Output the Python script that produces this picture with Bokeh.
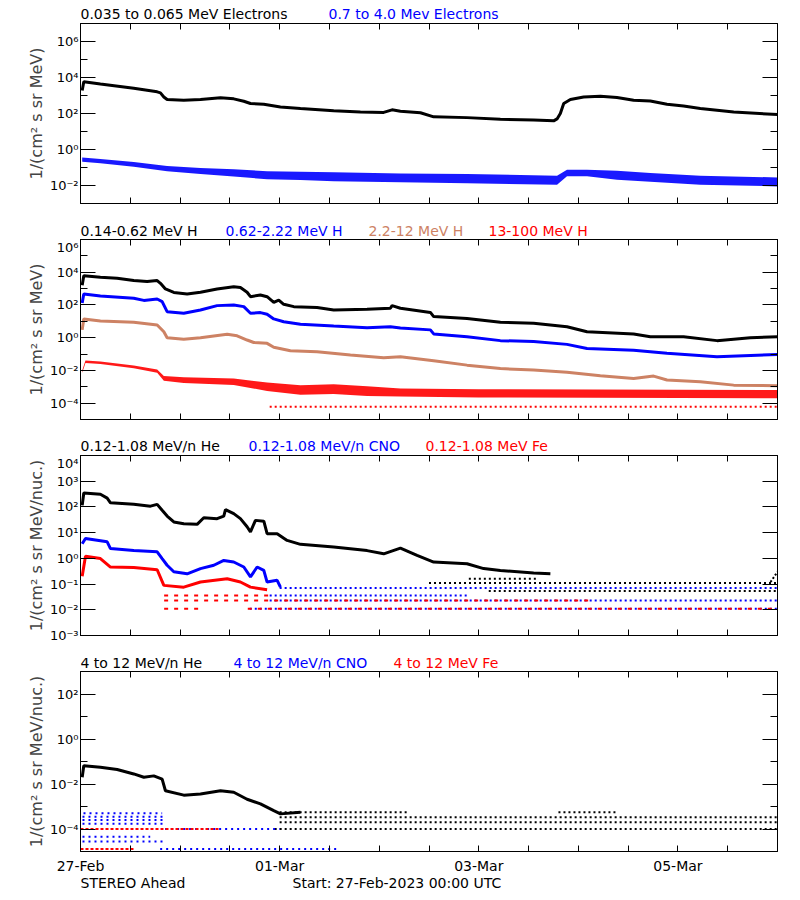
from bokeh.plotting import figure
from bokeh.layouts import column
from bokeh.models import (Range1d, FixedTicker, LogAxis, LinearAxis, CustomJSTickFormatter)
from bokeh.core.properties import value
from bokeh.embed import file_html
from bokeh.resources import INLINE

FONT = "DejaVu Sans"
BLACK, BLUE, TAN, RED = "#000000", "#0000FF", "#CD8264", "#FF0000"

# ---------------- x axis (days since 27-Feb-2023 00:00 UTC) ----------------
date_ticks = [0, 2, 4, 6]
date_labels = ["27-Feb", "01-Mar", "03-Mar", "05-Mar"]
half_day_ticks = [0.5, 1, 1.5, 2.5, 3, 3.5, 4.5, 5, 5.5, 6.5]

# ---------------- panel titles ----------------
p1_titles = ["0.035 to 0.065 MeV Electrons", "0.7 to 4.0 Mev Electrons"]
p2_titles = ["0.14-0.62 MeV H", "0.62-2.22 MeV H", "2.2-12 MeV H", "13-100 MeV H"]
p3_titles = ["0.12-1.08 MeV/n He", "0.12-1.08 MeV/n CNO", "0.12-1.08 MeV Fe"]
p4_titles = ["4 to 12 MeV/n He", "4 to 12 MeV/n CNO", "4 to 12 MeV Fe"]
footer_texts = ["STEREO Ahead", "Start: 27-Feb-2023 00:00 UTC"]

# ---------------- panel 1: electrons ----------------
e_lo_day = [0.017, 0.033, 0.2, 0.535, 0.77, 0.803, 0.837, 0.87, 1.037, 1.205, 1.406, 1.539, 1.64, 1.707,
            1.841, 2.008, 2.209, 2.543, 2.811, 3.045, 3.129, 3.213, 3.414, 3.547, 3.882, 4.217, 4.551,
            4.752, 4.786, 4.819, 4.853, 4.92, 5.053, 5.221, 5.388, 5.555, 5.723, 5.89, 6.057, 6.225, 6.56, 7.0]
e_lo_flux = [1.9e3, 5.8e3, 4.3e3, 2.5e3, 1.6e3, 1.4e3, 8.3e2, 6.0e2, 5.5e2, 6.0e2, 7.4e2, 6.5e2, 4.8e2, 3.6e2,
             3.3e2, 2.3e2, 1.9e2, 1.4e2, 1.2e2, 1.15e2, 1.6e2, 1.35e2, 1.1e2, 6.5e1, 5.9e1, 4.8e1, 4.4e1,
             3.9e1, 5.0e1, 1.0e2, 3.6e2, 6.0e2, 8.3e2, 9.1e2, 7.8e2, 5.5e2, 5.0e2, 3.3e2, 2.6e2, 1.9e2, 1.2e2, 8.7e1]
e_hi_day = [0.017, 0.2, 0.535, 0.87, 1.205, 1.539, 1.874, 2.209, 2.543, 3.213, 3.882, 4.786, 4.886, 5.087,
            5.388, 5.723, 6.225, 7.0]
e_hi_low = [2.1e-1, 1.7e-1, 1.1e-1, 6.2e-2, 4.4e-2, 3.2e-2, 2.2e-2, 2.0e-2, 1.7e-2, 1.5e-2, 1.35e-2, 1.1e-2,
            3.3e-2, 3.3e-2, 2.1e-2, 1.6e-2, 1.1e-2, 8.9e-3]
e_hi_high = [3.6e-1, 3.0e-1, 2.0e-1, 1.2e-1, 9.5e-2, 7.9e-2, 6.2e-2, 5.8e-2, 5.4e-2, 4.7e-2, 4.3e-2, 3.5e-2,
             7.6e-2, 7.6e-2, 6.6e-2, 5.0e-2, 3.5e-2, 2.8e-2]

# ---------------- panel 2: protons ----------------
h1_day = [0.017, 0.033, 0.2, 0.368, 0.535, 0.669, 0.77, 0.803, 0.853, 0.937, 1.071, 1.205, 1.372, 1.539,
          1.606, 1.673, 1.707, 1.807, 1.874, 1.941, 1.991, 2.041, 2.142, 2.376, 2.543, 2.878, 3.112, 3.129,
          3.213, 3.514, 3.547, 3.882, 4.217, 4.551, 4.886, 5.087, 5.555, 5.723, 6.057, 6.392, 6.727, 7.0]
h1_flux = [1.6e3, 6.0e3, 4.9e3, 4.3e3, 3.1e3, 2.7e3, 3.1e3, 2.1e3, 9.5e2, 5.8e2, 4.7e2, 6.0e2, 9.5e2, 1.3e3,
           1.15e3, 6.0e2, 3.2e2, 4.1e2, 3.2e2, 1.45e2, 2.0e2, 1.1e2, 7.9e1, 6.9e1, 4.9e1, 5.4e1, 6.3e1, 9.1e1,
           6.3e1, 3.5e1, 1.95e1, 1.5e1, 8.7, 7.6, 4.7, 2.3, 1.7, 1.15, 1.15, 0.66, 1.0, 1.15]
h2_day = [0.017, 0.033, 0.2, 0.535, 0.636, 0.77, 0.82, 0.87, 1.037, 1.205, 1.372, 1.539, 1.64, 1.707, 1.807,
          1.874, 1.941, 2.041, 2.209, 2.543, 2.878, 3.112, 3.213, 3.514, 3.547, 3.882, 4.217, 4.551, 4.886,
          5.087, 5.555, 5.89, 6.392, 7.0]
h2_flux = [1.3e2, 4.7e2, 3.5e2, 2.6e2, 1.9e2, 2.3e2, 1.6e2, 3.9e1, 3.1e1, 4.9e1, 9.1e1, 1.0e2, 7.9e1, 3.1e1,
           3.4e1, 2.7e1, 1.4e1, 9.5, 6.6, 5.1, 4.1, 4.7, 3.9, 3.0, 1.7, 1.15, 0.66, 0.58, 0.39, 0.22, 0.17,
           0.11, 0.069, 0.095]
h3_day = [0.017, 0.033, 0.2, 0.535, 0.77, 0.837, 0.87, 1.037, 1.205, 1.473, 1.573, 1.673, 1.74, 1.874, 1.941,
          2.108, 2.376, 2.711, 3.045, 3.213, 3.547, 3.882, 4.217, 4.551, 4.886, 5.221, 5.555, 5.756, 5.89,
          6.225, 6.56, 7.0]
h3_flux = [3.0, 14, 10.5, 8.7, 6.0, 2.3, 1.0, 0.79, 1.0, 1.6, 1.3, 0.72, 0.51, 0.45, 0.26, 0.16, 0.14, 0.087,
           0.06, 0.069, 0.039, 0.021, 0.013, 0.0105, 0.0076, 0.0047, 0.0032, 0.0045, 0.0026, 0.002, 0.00126,
           0.00115]
h4_day = [0.017, 0.05, 0.2, 0.535, 0.77, 0.837, 1.037, 1.539, 1.874, 2.209, 2.543, 2.878, 3.213, 4.0, 7.0]
h4_low = [7.1e-3, 2.8e-2, 2.5e-2, 1.35e-2, 7.2e-3, 2.3e-3, 1.7e-3, 1.3e-3, 5.6e-4, 3.2e-4, 3.6e-4, 2.7e-4,
          2.5e-4, 2.2e-4, 2.0e-4]
h4_high = [1.0e-2, 4.1e-2, 3.5e-2, 2.0e-2, 1.15e-2, 4.6e-3, 3.8e-3, 3.2e-3, 1.8e-3, 1.26e-3, 1.45e-3,
           1.07e-3, 7.9e-4, 7.1e-4, 6.3e-4]
h4_row_level, h4_row_start, h4_row_end = [6.0e-5], [1.9], [7.0]

# ---------------- panel 3: 0.12-1.08 MeV/n ions ----------------
he_day = [0.017, 0.033, 0.2, 0.268, 0.301, 0.535, 0.703, 0.77, 0.82, 0.87, 0.937, 1.037, 1.171, 1.238, 1.372,
          1.439, 1.456, 1.539, 1.606, 1.673, 1.707, 1.757, 1.841, 1.874, 1.975, 2.075, 2.209, 2.543, 2.878,
          3.045, 3.213, 3.38, 3.547, 3.882, 4.049, 4.217, 4.551, 4.719]
he_flux = [1.15e2, 3.5e2, 3.1e2, 2.2e2, 1.45e2, 1.26e2, 1.07e2, 1.26e2, 7.4e1, 4.4e1, 2.6e1, 2.2e1, 2.1e1,
           3.8e1, 3.5e1, 4.4e1, 7.9e1, 5.5e1, 3.5e1, 1.7e1, 1.07e1, 3.0e1, 2.8e1, 9.1, 9.1, 5.0, 3.5, 2.75,
           2.0, 1.5, 2.5, 1.3, 0.72, 0.62, 0.4, 0.34, 0.27, 0.25]
he_row_level, he_row_start, he_row_end = [0.16, 0.11, 0.054], [3.9, 3.5, 4.1], [4.6, 7.0, 7.0]
he_tail_day, he_tail_flux = [6.93, 7.0], [0.12, 0.3]
cno_day = [0.017, 0.05, 0.268, 0.301, 0.535, 0.77, 0.82, 0.87, 0.937, 1.071, 1.205, 1.339, 1.439, 1.539,
           1.64, 1.707, 1.774, 1.841, 1.874, 1.975, 2.008]
cno_flux = [3.7, 5.9, 4.4, 2.4, 2.0, 1.8, 0.98, 0.54, 0.3, 0.25, 0.4, 0.54, 0.83, 0.72, 0.46, 0.19, 0.46,
            0.34, 0.12, 0.14, 0.076]
cno_row_level, cno_row_start, cno_row_end = [0.07, 0.036, 0.023, 0.011], [2.0, 1.9, 1.9, 1.7], [7.0, 3.9, 7.0, 7.0]
fe_day = [0.017, 0.05, 0.2, 0.301, 0.535, 0.77, 0.837, 1.037, 1.205, 1.473, 1.606, 1.707, 1.874]
fe_flux = [0.2, 1.2, 0.98, 0.46, 0.44, 0.36, 0.089, 0.076, 0.12, 0.16, 0.12, 0.076, 0.06]
fe_row_level, fe_row_start, fe_row_end = [0.036, 0.023, 0.011, 0.011], [0.84, 0.84, 0.84, 1.68], [1.9, 5.1, 1.24, 7.0]

# ---------------- panel 4: 4-12 MeV/n ions ----------------
he4_day = [0.017, 0.033, 0.2, 0.368, 0.535, 0.636, 0.736, 0.82, 0.853, 1.037, 1.205, 1.406, 1.539, 1.673,
           1.807, 1.941, 2.008, 2.209]
he4_flux = [0.02, 0.065, 0.055, 0.044, 0.028, 0.02, 0.023, 0.0166, 0.005, 0.0032, 0.0036, 0.005, 0.0043,
            0.0021, 0.0013, 6.5e-4, 4.7e-4, 5.5e-4]
he4_row_level = [5.5e-4, 5.5e-4, 3.3e-4, 2.0e-4, 1.0e-4]
he4_row_start = [2.0, 4.8, 2.0, 2.0, 1.95]
he4_row_end = [3.3, 5.4, 7.0, 7.0, 7.0]
cno4_row_level = [5.0e-4, 3.5e-4, 2.5e-4, 1.7e-4, 1.0e-4, 4.5e-5, 2.8e-5, 1.3e-5]
cno4_row_start = [0.03, 0.02, 0.02, 0.02, 0.85, 0.02, 0.02, 0.8]
cno4_row_end = [0.82, 0.85, 0.85, 0.85, 2.0, 0.7, 0.85, 2.6]
fe4_row_level, fe4_row_start, fe4_row_end = [1.3e-5, 1.0e-4], [0.0, 0.0], [0.55, 1.4]

# ---------------- formatters ----------------
sup_fmt = CustomJSTickFormatter(code="""
const m = {'-':'\u207b','0':'\u2070','1':'\u00b9','2':'\u00b2','3':'\u00b3','4':'\u2074',
           '5':'\u2075','6':'\u2076','7':'\u2077','8':'\u2078','9':'\u2079'};
const e = Math.round(Math.log10(tick));
return '10' + String(e).split('').map(c => m[c]).join('');
""")
blank_fmt = CustomJSTickFormatter(code="return '';")
date_fmt = CustomJSTickFormatter(args=dict(date_pos=date_ticks, date_names=date_labels), code="""
for (let i = 0; i < date_pos.length; i++) { if (Math.abs(tick - date_pos[i]) < 1e-6) return date_names[i]; }
return '';
""")

FRAME_W = 697
LEFT = 80
RIGHT = 23


def style_axis(ax, ticker, fmt, tin, mtin, show):
    ax.ticker = ticker
    ax.formatter = fmt
    ax.major_tick_in = tin
    ax.major_tick_out = 0
    ax.minor_tick_in = mtin
    ax.minor_tick_out = 0
    ax.axis_line_color = "black"
    ax.major_tick_line_color = "black"
    ax.minor_tick_line_color = "black"
    ax.major_label_text_font = FONT
    ax.major_label_text_color = "black"
    ax.major_label_text_font_size = "13px" if show else "0px"
    ax.major_label_standoff = 2 if show else 0


def text_strip(texts, offsets, colors, height, center):
    s = figure(frame_width=FRAME_W, frame_height=height, x_range=Range1d(0, FRAME_W),
               y_range=Range1d(0, height), output_backend="svg", toolbar_location=None,
               x_axis_type=None, y_axis_type=None, min_border_left=LEFT, min_border_right=RIGHT,
               min_border_top=0, min_border_bottom=0, outline_line_color=None,
               background_fill_color="white", border_fill_color="white")
    s.grid.visible = False
    s.text(x=offsets, y=[center] * len(texts), text=texts, text_color=colors,
           text_font=value(FONT), text_font_size=value("14px"), text_baseline="middle")
    return s


def make_panel(ylo, yhi, major, minor, ylabel, bottom_labels):
    p = figure(frame_width=FRAME_W, frame_height=180, x_range=Range1d(0, 7), y_range=Range1d(ylo, yhi),
               y_axis_type="log", output_backend="svg", toolbar_location=None,
               min_border_left=LEFT, min_border_right=RIGHT, min_border_top=0,
               min_border_bottom=23 if bottom_labels else 18,
               background_fill_color="white", border_fill_color="white",
               outline_line_color="black")
    p.grid.visible = False
    yt = FixedTicker(ticks=major, minor_ticks=minor)
    xt = FixedTicker(ticks=date_ticks, minor_ticks=half_day_ticks)
    style_axis(p.yaxis[0], yt, sup_fmt, 15, 7, True)
    p.yaxis[0].axis_label = ylabel
    p.yaxis[0].axis_label_text_font = FONT
    p.yaxis[0].axis_label_text_font_size = "16px"
    p.yaxis[0].axis_label_text_font_style = "normal"
    p.yaxis[0].axis_label_standoff = 1
    style_axis(p.xaxis[0], xt, date_fmt if bottom_labels else blank_fmt, 6, 6, bottom_labels)
    if bottom_labels:
        p.xaxis[0].major_label_standoff = 6
        p.xaxis[0].major_label_text_font_size = "14px"
    ra = LogAxis()
    style_axis(ra, FixedTicker(ticks=major, minor_ticks=minor), blank_fmt, 15, 7, False)
    p.add_layout(ra, "right")
    ta = LinearAxis()
    style_axis(ta, FixedTicker(ticks=date_ticks, minor_ticks=half_day_ticks), blank_fmt, 6, 6, False)
    p.add_layout(ta, "above")
    return p


def rows(p, levels, starts, ends, color, dash="2 3", width=2):
    p.segment(x0=starts, y0=levels, x1=ends, y1=levels, line_color=color,
              line_width=width, line_dash=dash)


LW = 3

# Panel 1
s1 = text_strip(p1_titles, [0, 248], [BLACK, BLUE], 23, 9.5)
p1 = make_panel(1e-3, 1e7, [1e-2, 1, 1e2, 1e4, 1e6], [1e-1, 10, 1e3, 1e5], "1/(cm² s sr MeV)", False)
p1.line(e_lo_day, e_lo_flux, line_color=BLACK, line_width=LW)
p1.varea(x=e_hi_day, y1=e_hi_low, y2=e_hi_high, fill_color=BLUE, fill_alpha=0.9)

# Panel 2
s2 = text_strip(p2_titles, [0, 145, 288, 408], [BLACK, BLUE, TAN, RED], 18, 9)
p2 = make_panel(1e-5, 1e6, [1e-4, 1e-2, 1, 1e2, 1e4, 1e6], [1e-3, 1e-1, 10, 1e3, 1e5], "1/(cm² s sr MeV)", False)
p2.line(h1_day, h1_flux, line_color=BLACK, line_width=LW)
p2.line(h2_day, h2_flux, line_color=BLUE, line_width=LW)
p2.line(h3_day, h3_flux, line_color=TAN, line_width=LW)
p2.varea(x=h4_day, y1=h4_low, y2=h4_high, fill_color=RED, fill_alpha=0.9)
rows(p2, h4_row_level, h4_row_start, h4_row_end, RED)

# Panel 3
s3 = text_strip(p3_titles, [0, 168, 345], [BLACK, BLUE, RED], 18, 9.5)
p3 = make_panel(1e-3, 1e4, [1e-3, 1e-2, 1e-1, 1, 10, 1e2, 1e3, 1e4], [], "1/(cm² s sr MeV/nuc.)", False)
p3.line(he_day, he_flux, line_color=BLACK, line_width=LW)
rows(p3, he_row_level, he_row_start, he_row_end, BLACK)
p3.line(he_tail_day, he_tail_flux, line_color=BLACK, line_width=2, line_dash="2 2")
p3.line(cno_day, cno_flux, line_color=BLUE, line_width=LW)
rows(p3, cno_row_level, cno_row_start, cno_row_end, BLUE)
p3.line(fe_day, fe_flux, line_color=RED, line_width=LW)
rows(p3, fe_row_level, fe_row_start, fe_row_end, RED, dash="4 6")

# Panel 4
s4 = text_strip(p4_titles, [0, 153, 313], [BLACK, BLUE, RED], 18, 9)
p4 = make_panel(1e-5, 1e3, [1e-4, 1e-2, 1, 1e2], [1e-3, 1e-1, 10], "1/(cm² s sr MeV/nuc.)", True)
p4.line(he4_day, he4_flux, line_color=BLACK, line_width=LW)
rows(p4, he4_row_level, he4_row_start, he4_row_end, BLACK)
rows(p4, cno4_row_level, cno4_row_start, cno4_row_end, BLUE, dash="2 4")
rows(p4, fe4_row_level, fe4_row_start, fe4_row_end, RED, dash="3 2")

s5 = text_strip(footer_texts, [0, 212], [BLACK, BLACK], 24, 17.5)

layout = column(s1, p1, s2, p2, s3, p3, s4, p4, s5, spacing=0)
open("out.html", "w").write(file_html(layout, INLINE))
